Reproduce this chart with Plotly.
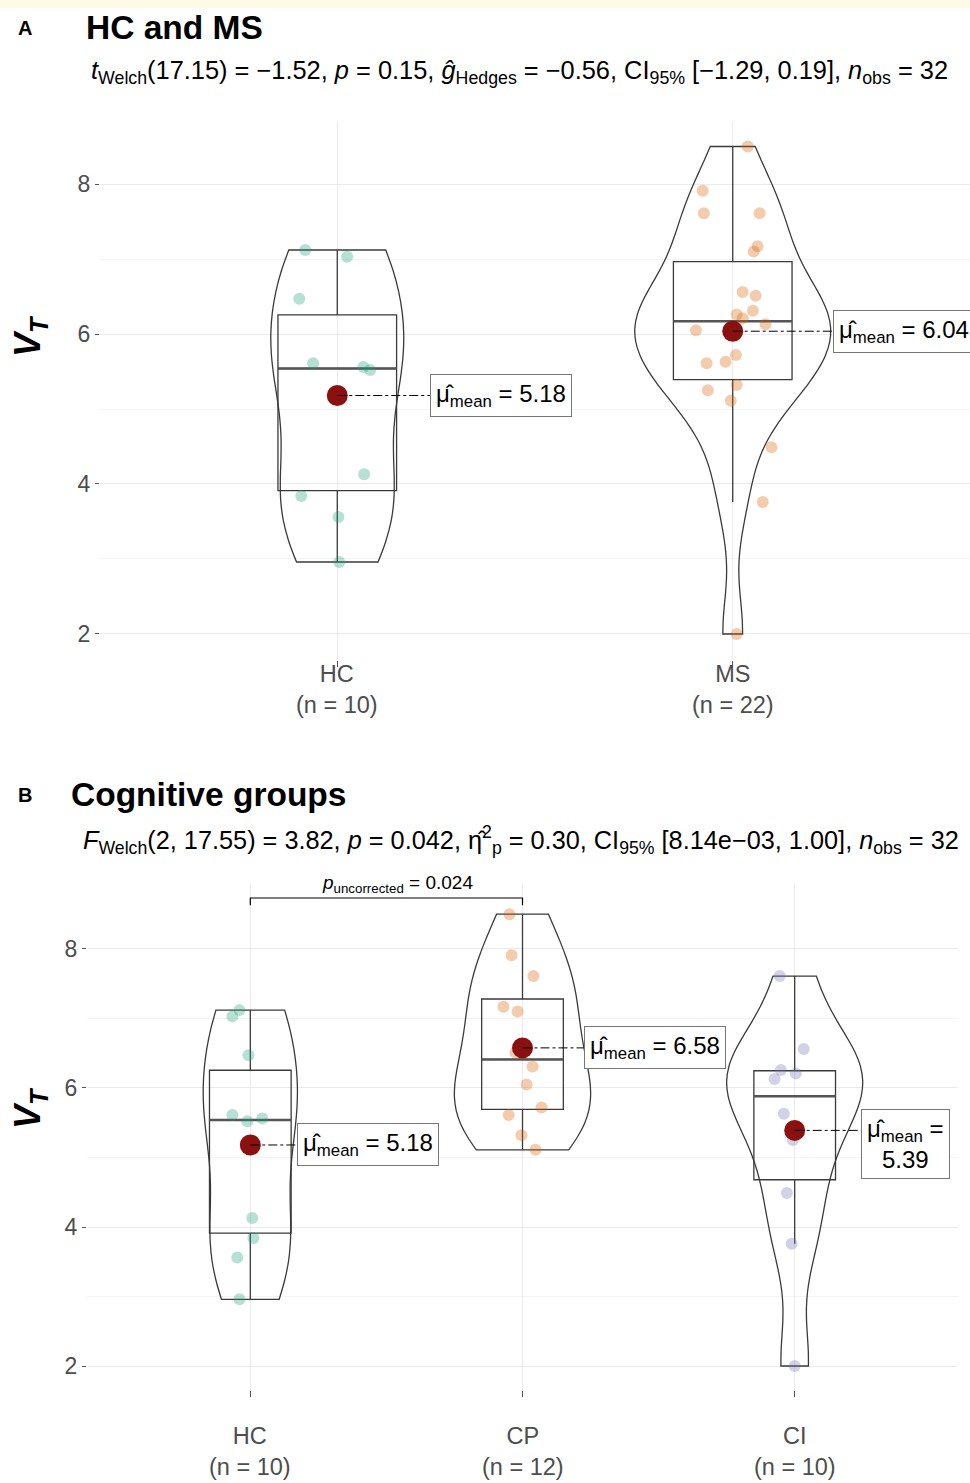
import numpy as np
import plotly.graph_objects as go

# ---------------- data ----------------
groups_a = ["HC", "MS"]
groups_b = ["HC", "CP", "CI"]

hc_vt = [7.12, 7.03, 6.47, 5.61, 5.56, 5.52, 4.13, 3.84, 3.56, 2.96]
ms_vt = [8.50, 7.91, 7.61, 7.61, 7.17, 7.10, 6.56, 6.51, 6.31, 6.26, 6.21,
         6.13, 6.05, 5.61, 5.63, 5.72, 5.32, 5.25, 5.11, 4.49, 3.76, 2.00]
cp_vt = [8.50, 7.91, 7.61, 7.17, 7.10, 6.51, 6.31, 6.05, 5.72, 5.61, 5.32, 5.11]
ci_vt = [7.61, 6.56, 6.26, 6.21, 6.13, 5.63, 5.25, 4.49, 3.76, 2.00]

# horizontal jitter of the raw points (category units)
hc_jit_a = [-0.081, 0.025, -0.096, -0.061, 0.066, 0.083, 0.068, -0.091, 0.003, 0.005]
ms_jit_a = [0.038, -0.076, -0.073, 0.068, 0.063, 0.053, 0.025, 0.058, 0.051, 0.010, 0.025,
            0.083, -0.093, -0.066, -0.018, 0.008, 0.010, -0.063, -0.005, 0.098, 0.076, 0.010]
hc_jit_b = [-0.040, -0.066, -0.007, -0.066, 0.044, -0.011, 0.007, 0.011, -0.048, -0.040]
cp_jit_b = [-0.048, -0.040, 0.040, -0.070, -0.018, -0.026, 0.037, 0.015, 0.070, -0.051, -0.004, 0.048]
ci_jit_b = [-0.055, 0.033, -0.051, 0.004, -0.074, -0.040, -0.007, -0.029, -0.011, 0.0]

subtitle_a = ("<i>t</i><sub>Welch</sub>(17.15) = \u22121.52, <i>p</i> = 0.15, "
              "<i>g\u0302</i><sub>Hedges</sub> = \u22120.56, CI<sub>95%</sub> [\u22121.29, 0.19], "
              "<i>n</i><sub>obs</sub> = 32")
subtitle_b = ("<i>F</i><sub>Welch</sub>(2, 17.55) = 3.82, <i>p</i> = 0.042, "
              "\u03b7\u0302<sup>2</sup><sub>p</sub> = 0.30, CI<sub>95%</sub> [8.14e\u221203, 1.00], "
              "<i>n</i><sub>obs</sub> = 32")
pairwise_text = "<i>p</i><sub>uncorrected</sub> = 0.024"

# ---------------- styling ----------------
W, H = 970, 1483
FONT = "Liberation Sans"
GREEN = (27, 158, 119)
ORANGE = (217, 95, 2)
PURPLE = (117, 112, 179)
LINE = "#3a3a3a"
GRID = "#ebebeb"
GRID_MINOR = "#f4f4f4"
TICKC = "#4d4d4d"


def px_x(p):
    return p / W


def px_y(p):
    return 1 - p / H


def bw_nrd0(v):
    v = np.asarray(v, float)
    sd = v.std(ddof=1)
    q1, q3 = np.percentile(v, [25, 75])
    lo = min(sd, (q3 - q1) / 1.34)
    return 0.9 * lo * len(v) ** -0.2


fig = go.Figure()
shapes = []
annotations = []


def add_group(vals, jit, pos, rgb, vwidth, xa, ya, label_dx, label_text=None, label_yshift=0):
    v = np.asarray(vals, float)
    xr = "x" if xa == "x" else "x2"
    yr = "y" if ya == "y" else "y2"
    # violin
    fig.add_trace(go.Violin(
        x=[pos] * len(v), y=v, xaxis=xr, yaxis=yr,
        points=False, box_visible=False, meanline_visible=False,
        spanmode="hard", bandwidth=bw_nrd0(v), width=vwidth,
        scalemode="width", scalegroup=f"{xr}_{pos}",
        line=dict(color=LINE, width=1.3), fillcolor="rgba(0,0,0,0)",
        hoverinfo="skip", showlegend=False))
    # box (type-7 quartiles, like R)
    q1, med, q3 = np.percentile(v, [25, 50, 75])
    iqr = q3 - q1
    lf = v[v >= q1 - 1.5 * iqr].min()
    uf = v[v <= q3 + 1.5 * iqr].max()
    fig.add_trace(go.Box(
        x=[pos], q1=[q1], median=[med], q3=[q3], lowerfence=[lf], upperfence=[uf],
        xaxis=xr, yaxis=yr, width=0.3, whiskerwidth=0, boxpoints=False,
        line=dict(color=LINE, width=1.3), fillcolor="rgba(0,0,0,0)",
        hoverinfo="skip", showlegend=False))
    # thicker median line
    fig.add_trace(go.Scatter(
        x=[pos - 0.15, pos + 0.15], y=[med, med], xaxis=xr, yaxis=yr, mode="lines",
        line=dict(color="#555555", width=2.6), hoverinfo="skip", showlegend=False))
    # raw points
    fig.add_trace(go.Scatter(
        x=[pos + j for j in jit], y=v, xaxis=xr, yaxis=yr, mode="markers",
        marker=dict(size=12, color=f"rgba({rgb[0]},{rgb[1]},{rgb[2]},0.32)", line=dict(width=0)),
        hoverinfo="skip", showlegend=False))
    # mean
    m = float(v.mean())
    fig.add_trace(go.Scatter(
        x=[pos], y=[m], xaxis=xr, yaxis=yr, mode="markers",
        marker=dict(size=21, color="#8b1111", line=dict(width=0)),
        hoverinfo="skip", showlegend=False))
    # dash-dot connector and label
    shapes.append(dict(type="line", xref=xr, yref=yr, x0=pos, x1=pos + label_dx, y0=m, y1=m,
                       line=dict(color="black", width=1, dash="dashdot"), layer="above"))
    if label_text is None:
        label_text = f"\u03bc\u0302<sub>mean</sub> = {m:.2f}"
    annotations.append(dict(
        x=pos + label_dx, y=m, xref=xr, yref=yr, xanchor="left", yanchor="middle",
        text=label_text, showarrow=False, font=dict(family=FONT, size=24, color="black"),
        bgcolor="white", bordercolor="#777777", borderwidth=1, borderpad=5,
        yshift=label_yshift, align="center"))


# ---------------- panel A ----------------
add_group(hc_vt, hc_jit_a, 0, GREEN, 0.336, "x", "y", 0.235)
add_group(ms_vt, ms_jit_a, 1, ORANGE, 0.495, "x", "y", 0.253)

# ---------------- panel B ----------------
add_group(hc_vt, hc_jit_b, 0, GREEN, 0.346, "x2", "y2", 0.17)
add_group(cp_vt, cp_jit_b, 1, ORANGE, 0.50, "x2", "y2", 0.225)
ci_mean = float(np.mean(ci_vt))
add_group(ci_vt, ci_jit_b, 2, PURPLE, 0.50, "x2", "y2", 0.243,
          label_text=f"\u03bc\u0302<sub>mean</sub> =<br>{ci_mean:.2f}", label_yshift=-14)

# pairwise bracket (HC vs CP)
shapes.append(dict(type="path", xref="x2", yref="y2",
                   path="M 0,8.63 L 0,8.733 L 1,8.733 L 1,8.63",
                   line=dict(color="black", width=1.2)))
annotations.append(dict(x=0.54, y=8.733, xref="x2", yref="y2", xanchor="center", yanchor="bottom",
                        text=pairwise_text, showarrow=False, yshift=0,
                        font=dict(family=FONT, size=19, color="black")))

# background band at top
shapes.append(dict(type="rect", xref="paper", yref="paper", x0=0, x1=1, y0=px_y(8), y1=1,
                   fillcolor="#fffae6", line=dict(width=0), layer="below"))

# titles
for txt, x, y, size, anc in [
    ("<b>A</b>", 25, 28, 20, "center"),
    ("<b>HC and MS</b>", 84, 28, 33.5, "left"),
    (subtitle_a, 89, 72, 25.4, "left"),
    ("<b>B</b>", 25, 795, 20, "center"),
    ("<b>Cognitive groups</b>", 69, 795, 33.5, "left"),
    (subtitle_b, 81, 840, 25.3, "left"),
]:
    annotations.append(dict(x=px_x(x), y=px_y(y), xref="paper", yref="paper", xanchor=anc,
                            yanchor="middle", text=txt, showarrow=False,
                            font=dict(family=FONT, size=size, color="black")))

# y axis titles
for yc in (336, 1108):
    annotations.append(dict(x=px_x(30), y=px_y(yc), xref="paper", yref="paper", xanchor="center",
                            yanchor="middle", textangle=-90, showarrow=False,
                            text="<b><i>V</i><sub><i>T</i></sub></b>",
                            font=dict(family=FONT, size=36, color="black")))

# category labels
for xr, labels, counts, y_c in [
    ("x", groups_a, [len(hc_vt), len(ms_vt)], 690),
    ("x2", groups_b, [len(hc_vt), len(cp_vt), len(ci_vt)], 1451),
]:
    for i, (g, n) in enumerate(zip(labels, counts)):
        annotations.append(dict(x=i, y=px_y(y_c), xref=xr, yref="paper", xanchor="center",
                                yanchor="middle", text=f"{g}<br>(n = {n})", showarrow=False,
                                font=dict(family=FONT, size=23.5, color=TICKC)))


def xaxis_cfg(domain, rng, n):
    return dict(domain=domain, range=rng, tickmode="array", tickvals=list(range(n)),
                showticklabels=False,
                showgrid=True, gridcolor=GRID, gridwidth=1, zeroline=False, showline=False,
                ticks="outside", ticklen=6, tickcolor="#555555", tickwidth=1,
                automargin=False, fixedrange=True)


def yaxis_cfg(domain, rng, anchor):
    return dict(domain=domain, range=rng, anchor=anchor, tickmode="array", tickvals=[2, 4, 6, 8],
                showgrid=True, gridcolor=GRID, gridwidth=1.2, zeroline=False, showline=False,
                ticks="outside", ticklen=4, tickcolor="#555555", tickwidth=1,
                minor=dict(tickmode="array", tickvals=[3, 5, 7], showgrid=True,
                           gridcolor=GRID_MINOR, gridwidth=1, ticks=""),
                tickfont=dict(family=FONT, size=23, color=TICKC), automargin=False, fixedrange=True)


fig.update_layout(
    width=W, height=H, margin=dict(l=0, r=0, t=0, b=0),
    paper_bgcolor="white", plot_bgcolor="white",
    font=dict(family=FONT, color="black"),
    violinmode="overlay", boxmode="overlay", showlegend=False,
    xaxis=xaxis_cfg([px_x(100), 1.0], [-0.6, 1.6], len(groups_a)),
    yaxis=yaxis_cfg([px_y(660), px_y(122)], [1.653, 8.827], "x"),
    xaxis2=xaxis_cfg([px_x(87), px_x(958)], [-0.6, 2.6], len(groups_b)),
    yaxis2=yaxis_cfg([px_y(1390), px_y(885)], [1.655, 8.92], "x2"),
    shapes=shapes, annotations=annotations,
)
fig.layout.xaxis.anchor = "y"
fig.layout.xaxis2.anchor = "y2"

fig.write_html("out.html", config={"displayModeBar": False},
               post_script="document.body.style.margin='0px';")
